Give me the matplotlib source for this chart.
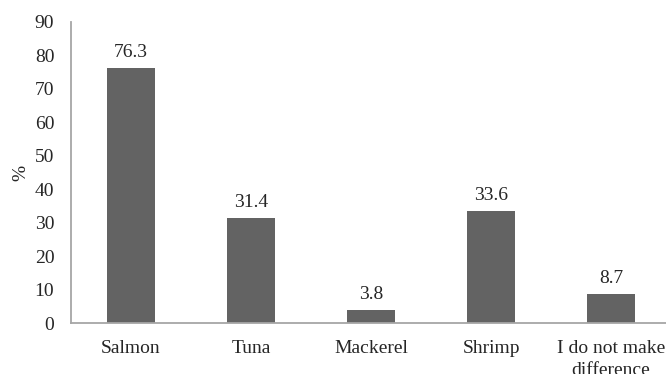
import matplotlib
matplotlib.use("Agg")
import matplotlib.pyplot as plt

categories = ["Salmon", "Tuna", "Mackerel", "Shrimp", "I do not make\ndifference"]
values = [76.3, 31.4, 3.8, 33.6, 8.7]
yticks = [0, 10, 20, 30, 40, 50, 60, 70, 80, 90]

plt.rcParams["font.family"] = ["Liberation Serif", "DejaVu Serif"]
text_color = "#262626"
bar_color = "#636363"
axis_color = "#a6a6a6"
fs = 14

fig = plt.figure(figsize=(6.66, 3.74), dpi=100)
ax = fig.add_axes([71 / 666, 1 - 323 / 374, 600 / 666, (323 - 22) / 374])

x = list(range(len(categories)))
ax.bar(x, values, width=0.4, color=bar_color, zorder=2)
ax.set_xlim(-0.5, len(categories) - 0.5)
ax.set_ylim(0, 90)
ax.set_yticks(yticks)
ax.set_xticks(x)
ax.set_xticklabels(categories, fontsize=fs, color=text_color, linespacing=1.4)
ax.tick_params(axis="both", length=0, labelsize=fs, colors=text_color)
ax.tick_params(axis="y", pad=12)
ax.tick_params(axis="x", pad=12)

for spine in ["top", "right"]:
    ax.spines[spine].set_visible(False)
for spine in ["left", "bottom"]:
    ax.spines[spine].set_color(axis_color)
    ax.spines[spine].set_linewidth(1.3)

for xi, v in zip(x, values):
    ax.annotate(f"{v}", (xi, v), xytext=(0, 5), textcoords="offset points",
                ha="center", va="bottom", fontsize=fs, color=text_color)

ax.set_ylabel("%", fontsize=fs, color=text_color, labelpad=4)

fig.savefig("out.png", dpi=100)
